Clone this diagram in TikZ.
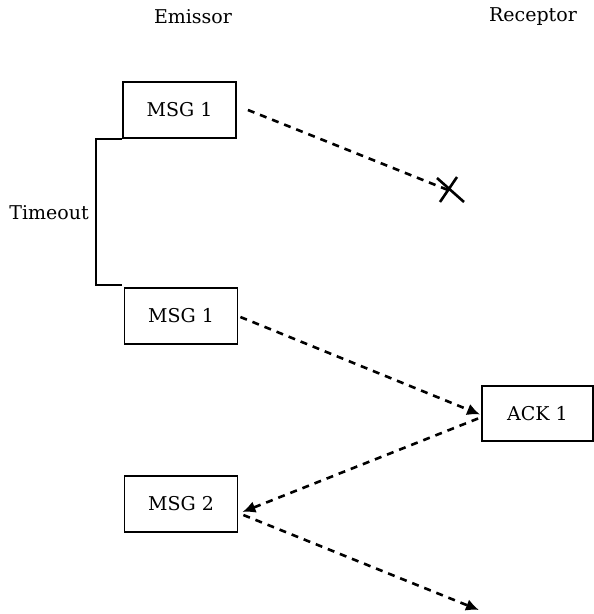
\documentclass[tikz,border=0pt]{standalone}
\usepackage{fontspec}
\setmainfont{DejaVu Serif}
\usetikzlibrary{arrows.meta,calc}

\tikzset{
  label text/.style={font=\fontsize{19}{23}\selectfont, inner sep=0pt},
  msgbox/.style={draw, line width=1.8pt, minimum width=113pt, minimum height=56pt,
                 inner sep=0pt, font=\fontsize{19}{23}\selectfont},
  msgflow/.style={line width=2.6pt, dash pattern=on 7pt off 6pt,
                  -{Latex[length=13pt,width=12pt]}},
  lostflow/.style={line width=2.6pt, dash pattern=on 7pt off 6pt},
  bracket/.style={line width=1.8pt},
  crossmark/.style={line width=2.6pt}
}

\begin{document}
\begin{tikzpicture}[x=1pt,y=-1pt]
  \useasboundingbox (0,0) rectangle (594,614);

  % column titles
  \node[label text] (emissor)  at (193,17) {Emissor};
  \node[label text] (receptor) at (533,17) {Receptor};

  % messages
  \node[msgbox] (m1a) at (179.5,110) {MSG 1};
  \node[msgbox] (m1b) at (181,316)   {MSG 1};
  \node[msgbox, minimum width=111pt, minimum height=55pt] (ack) at (537.5,413.5) {ACK 1};
  \node[msgbox] (m2)  at (181,504)   {MSG 2};

  % timeout interval
  \node[label text] (timeout) at (49,213) {Timeout};
  \draw[bracket] (m1a.south west) -- ++(-26,0) |- ($(m1b.north west)+(-2,-2)$);

  % lost first message
  \coordinate (lost) at (448,190);
  \draw[lostflow] ($(m1a.east)+(11,0)$) -- (lost);
  \draw[crossmark] (437,178) -- (464,202);
  \draw[crossmark] (440,202) -- (457,177);

  % retransmission and acknowledgement
  \draw[msgflow] ($(m1b.east)+(2,1)$) -- ($(ack.west)+(-1,1)$);
  \draw[msgflow] ($(ack.west)+(-3,5)$) -- ($(m2.east)+(4,8)$);

  % next message
  \coordinate (next) at (479,610);
  \draw[msgflow] ($(m2.east)+(5,11)$) -- (next);
\end{tikzpicture}
\end{document}
